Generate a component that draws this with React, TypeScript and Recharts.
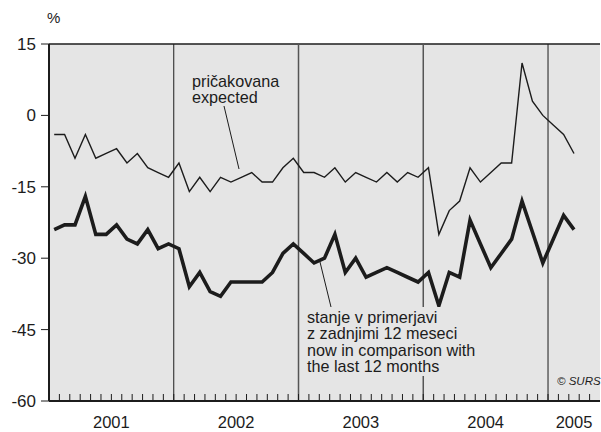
import { LineChart, Line, XAxis, YAxis, ReferenceLine, CartesianGrid } from "recharts"

const years = ["2001", "2002", "2003", "2004", "2005"]
const yearCenters = [6, 18, 30, 42, 50.5]
const yearBreaks = [12, 24, 36, 48]

// expected (pričakovana), Jan 2001 - Mar 2005
const expected = [
  -4, -4, -9, -4, -9, -8, -7, -10, -8, -11, -12, -13,
  -10, -16, -13, -16, -13, -14, -13, -12, -14, -14, -11, -9,
  -12, -12, -13, -11, -14, -12, -13, -14, -12, -14, -12, -13,
  -11, -25, -20, -18, -11, -14, -12, -10, -10, 11, 3, 0,
  -2, -4, -8,
]

// now vs last 12 months (stanje v primerjavi)
const current = [
  -24, -23, -23, -17, -25, -25, -23, -26, -27, -24, -28, -27,
  -28, -36, -33, -37, -38, -35, -35, -35, -35, -33, -29, -27,
  -29, -31, -30, -25, -33, -30, -34, -33, -32, -33, -34, -35,
  -33, -40, -33, -34, -22, -27, -32, -29, -26, -18, -24.5, -31,
  -26, -21, -24,
]

const yTicks = [15, 0, -15, -30, -45, -60]

const data = expected.map((v, i) => ({ x: i + 0.5, expected: v, current: current[i] }))

const monthTicks = Array.from({ length: 54 }, (_, i) => i).concat([50.5])

const font = "'Liberation Sans', Arial, Helvetica, sans-serif"
const ink = "#1c1c1c"

function MonthTick(props: any) {
  const { x, y, payload } = props
  const v = payload.value
  const yi = yearCenters.indexOf(v)
  return (
    <g>
      {Number.isInteger(v) && v > 0 && v < 53 && (
        <line x1={x} x2={x} y1={y - 7} y2={y} stroke={ink} strokeWidth={1} />
      )}
      {yi >= 0 && (
        <text x={x} y={y + 27} textAnchor="middle" fill={ink} fontSize={16.5} fontFamily={font}>
          {years[yi]}
        </text>
      )}
    </g>
  )
}

const txt: React.CSSProperties = {
  position: "absolute",
  fontFamily: font,
  fontSize: 16.2,
  lineHeight: "16.3px",
  color: ink,
  whiteSpace: "nowrap",
}

export default function App() {
  return (
    <div style={{ position: "absolute", left: 0, top: 0, width: 601, height: 432, background: "#fff" }}>
      <LineChart width={601} height={432} data={data} margin={{ top: 44, right: 1, left: 0, bottom: 0 }}>
        <CartesianGrid fill="#e5e5e5" stroke="none" horizontal={false} vertical={false} />
        <XAxis
          dataKey="x"
          type="number"
          domain={[0, 53]}
          ticks={monthTicks}
          interval={0}
          tick={<MonthTick />}
          tickLine={false}
          tickSize={0}
          tickMargin={0}
          height={31}
          axisLine={{ stroke: ink, strokeWidth: 2 }}
        />
        <YAxis
          type="number"
          domain={[-60, 15]}
          ticks={yTicks}
          interval={0}
          width={49}
          tickSize={8}
          tickMargin={5}
          tickLine={{ stroke: ink, strokeWidth: 1 }}
          axisLine={{ stroke: ink, strokeWidth: 2 }}
          tick={{ fill: ink, fontSize: 17, fontFamily: font }}
        />
        <ReferenceLine y={15} stroke={ink} strokeWidth={1.5} />
        {yearBreaks.map((b, i) => (
          <ReferenceLine
            key={b}
            x={b}
            stroke={i === 1 || i === 2 ? "#555" : ink}
            strokeWidth={i === 1 || i === 2 ? 1.5 : 1}
          />
        ))}
        <Line
          type="linear"
          dataKey="expected"
          stroke={ink}
          strokeWidth={1.4}
          dot={false}
          isAnimationActive={false}
        />
        <Line
          type="linear"
          dataKey="current"
          stroke={ink}
          strokeWidth={3.6}
          strokeLinejoin="miter"
          dot={false}
          isAnimationActive={false}
        />
      </LineChart>

      <svg width={601} height={432} style={{ position: "absolute", left: 0, top: 0, pointerEvents: "none" }}>
        <line x1={224} y1={106} x2={239} y2={169} stroke={ink} strokeWidth={1} />
        <line x1={320} y1={262} x2={331} y2={307} stroke={ink} strokeWidth={1} />
      </svg>

      <div style={{ ...txt, left: 47, top: 10, fontSize: 15 }}>%</div>
      <div style={{ ...txt, left: 192, top: 73 }}>
        pričakovana
        <br />
        expected
      </div>
      <div style={{ ...txt, left: 304, top: 307, padding: "2px 3px", background: "#e5e5e5" }}>
        stanje v primerjavi
        <br />
        z zadnjimi 12 meseci
        <br />
        now in comparison with
        <br />
        the last 12 months
      </div>
      <div style={{ ...txt, left: 557, top: 375, fontSize: 11.5, fontStyle: "italic", lineHeight: "13px" }}>
        © SURS
      </div>
    </div>
  )
}
